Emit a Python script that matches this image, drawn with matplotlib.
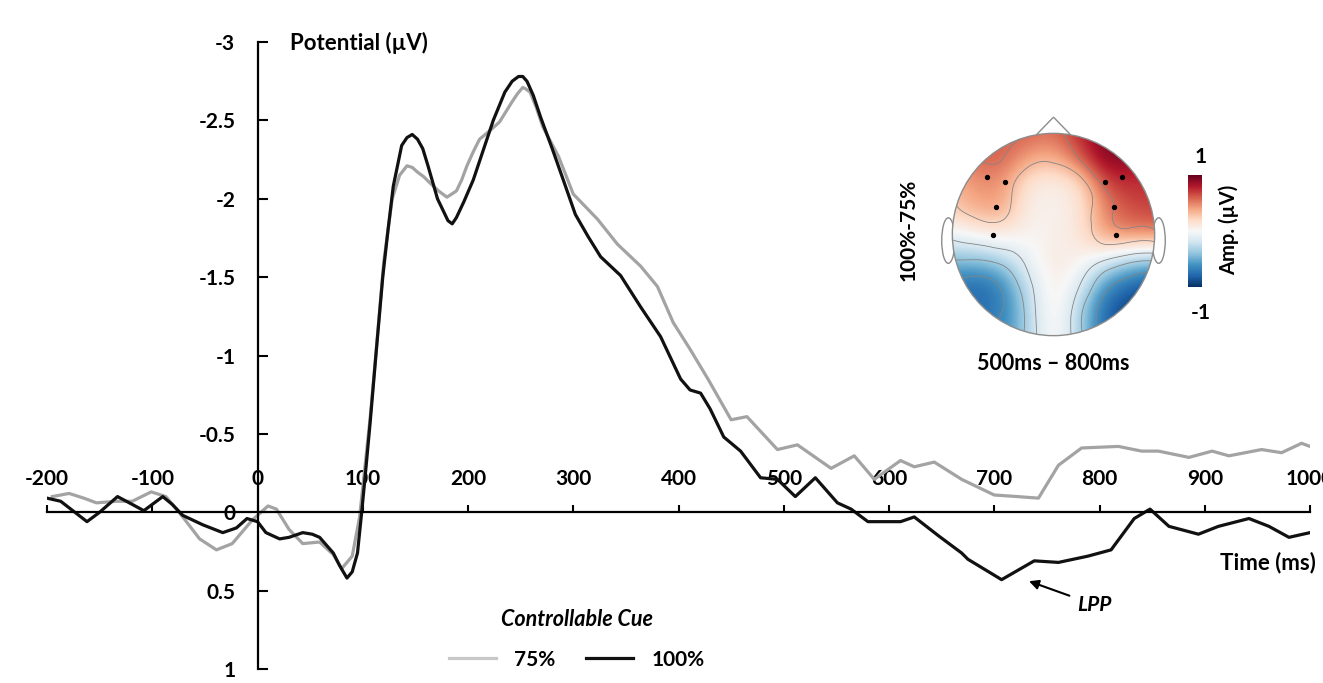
import numpy as np
import matplotlib
matplotlib.use('Agg')
import matplotlib.pyplot as plt
import matplotlib.tri as mtri
from matplotlib.patches import Circle, Ellipse, Polygon

plt.rcParams['font.family'] = ['Lato', 'DejaVu Sans']
plt.rcParams['font.weight'] = 'bold'

# ERP waveforms, controllable cue (time in ms, amplitude in uV)
t_100 = [-200, -187, -162, -150, -133, -119, -108, -90, -81, -71, -52, -33, -20, -10, 0,
         8, 21, 30, 43, 52, 59, 72, 78, 85, 90, 95, 99, 103, 107, 113, 119, 124, 129, 137,
         142, 147, 152, 157, 162, 171, 181, 185, 189, 196, 205, 215, 224, 235, 242, 248,
         252, 256, 262, 269, 280, 290, 302, 314, 326, 345, 364, 383, 402, 411, 421, 430,
         443, 459, 478, 494, 511, 530, 551, 564, 580, 599, 611, 624, 647, 669, 675, 707,
         738, 761, 789, 811, 833, 848, 866, 894, 913, 942, 961, 980, 1000]
v_100 = [-0.09, -0.07, 0.06, 0.0, -0.10, -0.05, -0.01, -0.10, -0.05, 0.02, 0.08, 0.13, 0.10,
         0.04, 0.06, 0.13, 0.17, 0.16, 0.13, 0.14, 0.16, 0.26, 0.34, 0.42, 0.38, 0.26, 0.0,
         -0.28, -0.57, -1.04, -1.50, -1.80, -2.08, -2.34, -2.39, -2.41, -2.38, -2.32, -2.21,
         -2.00, -1.86, -1.84, -1.88, -1.98, -2.12, -2.32, -2.50, -2.68, -2.75, -2.78, -2.78,
         -2.75, -2.66, -2.52, -2.32, -2.13, -1.90, -1.76, -1.63, -1.51, -1.31, -1.12, -0.85,
         -0.78, -0.76, -0.66, -0.48, -0.39, -0.22, -0.21, -0.10, -0.22, -0.06, -0.02, 0.06,
         0.06, 0.06, 0.03, 0.15, 0.26, 0.30, 0.43, 0.31, 0.32, 0.28, 0.24, 0.04, -0.02, 0.09,
         0.14, 0.09, 0.04, 0.09, 0.16, 0.13]

t_75 = [-195, -187, -179, -165, -153, -134, -119, -110, -101, -87, -71, -55, -39, -24, -5,
        10, 18, 30, 43, 59, 72, 80, 90, 97, 107, 113, 120, 128, 135, 142, 147, 152, 158,
        164, 172, 180, 189, 194, 199, 205, 211, 220, 230, 242, 247, 252, 255, 259, 265, 271,
        286, 300, 323, 342, 364, 380, 395, 411, 428, 450, 465, 494, 513, 545, 567, 586, 611,
        624, 643, 669, 700, 722, 742, 761, 783, 818, 840, 856, 885, 907, 923, 954, 973, 992,
        1004]
v_75 = [-0.10, -0.11, -0.12, -0.09, -0.06, -0.07, -0.07, -0.10, -0.13, -0.10, 0.03, 0.17,
        0.24, 0.20, 0.05, -0.04, -0.02, 0.11, 0.20, 0.19, 0.27, 0.36, 0.28, 0.03, -0.60,
        -1.05, -1.60, -2.00, -2.15, -2.21, -2.20, -2.17, -2.14, -2.10, -2.05, -2.01, -2.05,
        -2.12, -2.21, -2.30, -2.38, -2.43, -2.49, -2.62, -2.67, -2.71, -2.70, -2.68, -2.58,
        -2.46, -2.27, -2.03, -1.87, -1.71, -1.57, -1.44, -1.21, -1.04, -0.85, -0.59, -0.61,
        -0.40, -0.43, -0.28, -0.36, -0.21, -0.33, -0.29, -0.32, -0.21, -0.11, -0.10, -0.09,
        -0.30, -0.41, -0.42, -0.39, -0.39, -0.35, -0.39, -0.36, -0.40, -0.38, -0.44, -0.41]

x_ticks = list(range(-200, 1001, 100))
y_ticks = [-3, -2.5, -2, -1.5, -1, -0.5, 0, 0.5, 1]
y_labels = ['-3', '-2.5', '-2', '-1.5', '-1', '-0.5', '0', '0.5', '1']

# topography 100%-75%, 500-800 ms (rows front -> back, cols left -> right)
topo_grid = np.array([
    [0.55, 0.55, 0.60, 0.60, 0.55, 0.75, 0.95, 0.95, 0.90],
    [0.50, 0.60, 0.60, 0.40, 0.35, 0.60, 0.95, 0.90, 0.80],
    [0.35, 0.45, 0.45, 0.10, 0.05, 0.15, 0.65, 0.75, 0.70],
    [0.25, 0.40, 0.40, 0.05, 0.05, 0.10, 0.50, 0.65, 0.70],
    [-0.05, 0.05, 0.10, 0.02, 0.05, 0.10, 0.45, 0.50, 0.50],
    [-0.40, -0.40, -0.30, -0.05, 0.10, 0.05, -0.10, -0.30, -0.35],
    [-0.75, -0.80, -0.65, -0.20, 0.10, -0.10, -0.60, -0.80, -0.90],
    [-0.70, -0.75, -0.70, -0.30, 0.12, -0.30, -0.80, -0.95, -0.95],
    [-0.65, -0.70, -0.65, -0.30, 0.10, -0.30, -0.80, -0.90, -0.90],
])
elec_x = [-0.66, -0.48, -0.57, -0.60, 0.51, 0.68, 0.60, 0.62]
elec_y = [0.57, 0.52, 0.27, 0.00, 0.52, 0.57, 0.27, 0.00]

W, H = 1323, 683
fig = plt.figure(figsize=(W / 100, H / 100), dpi=100)


def fx(x):
    return x / W


def fy(y):
    return 1 - y / H


# main ERP axes
ax = fig.add_axes([fx(47), fy(669), (1310 - 47) / W, (669 - 42) / H])
ax.set_xlim(-200, 1000)
ax.set_ylim(1, -3)
ax.plot(t_75, v_75, color='#a3a3a3', lw=2.3, solid_joinstyle='round', label='75%')
ax.plot(t_100, v_100, color='#111111', lw=2.3, solid_joinstyle='round', label='100%')

for s in ['top', 'right']:
    ax.spines[s].set_visible(False)
ax.spines['left'].set_position(('data', 0))
ax.spines['bottom'].set_position(('data', 0))
ax.spines['left'].set_linewidth(1.6)
ax.spines['bottom'].set_linewidth(1.6)
ax.set_xticks(x_ticks)
ax.set_xticklabels([str(v) for v in x_ticks])
ax.set_yticks(y_ticks)
ax.set_yticklabels(y_labels)
ax.tick_params(axis='x', direction='in', length=5, width=1.5, pad=-31, labelsize=15)
ax.tick_params(axis='y', direction='in', length=7, width=1.5, pad=16, labelsize=15)
for lab in ax.get_xticklabels() + ax.get_yticklabels():
    lab.set_fontweight('bold')

fig.text(fx(290), fy(43), 'Potential (µV)', fontsize=16, fontweight='bold', ha='left', va='center')
fig.text(fx(1316), fy(563), 'Time (ms)', fontsize=16, fontweight='bold', ha='right', va='center')

ax.annotate('LPP', xy=(733, 0.44), xytext=(779, 0.59), fontsize=15, fontweight='bold',
            style='italic', ha='left', va='center',
            arrowprops=dict(arrowstyle='-|>', color='black', lw=1.5, mutation_scale=14,
                            shrinkA=4, shrinkB=0))

leg = ax.legend(loc='upper left', bbox_to_anchor=(fx(430), fy(590)),
                bbox_transform=fig.transFigure, ncol=2, frameon=False,
                title='Controllable Cue', handlelength=2.25, handletextpad=0.87,
                columnspacing=1.5, labelspacing=0.95,
                prop={'weight': 'bold', 'size': 15},
                title_fontproperties={'weight': 'bold', 'style': 'italic', 'size': 15.5})
leg.get_lines()[0].set_color('#c8c8c8')

# topomap inset
tax = fig.add_axes([fx(1053 - 131), fy(235 + 131), 263 / W, 263 / H])
tax.set_xlim(-1.3, 1.3)
tax.set_ylim(-1.3, 1.3)
tax.set_aspect('equal')
tax.axis('off')
im = tax.imshow(topo_grid, cmap='RdBu_r', vmin=-1, vmax=1, origin='upper',
                extent=[-1.125, 1.125, -1.125, 1.125], interpolation='bicubic', zorder=2)
head = Circle((0, 0), 1.0, transform=tax.transData)
im.set_clip_path(head)

# smooth iso-lines through matplotlib's triangulation refiner
gx = np.linspace(-1, 1, 9)
GX, GY = np.meshgrid(gx, gx[::-1])
tri = mtri.Triangulation(GX.ravel(), GY.ravel())
refiner = mtri.UniformTriRefiner(tri)
tri_f, z_f = refiner.refine_field(topo_grid.ravel(),
                                  mtri.CubicTriInterpolator(tri, topo_grid.ravel()),
                                  subdiv=3)
cs = tax.tricontour(tri_f, z_f, levels=[-0.7, -0.4, -0.12, 0.3, 0.6],
                    colors='#858585', linewidths=0.6, linestyles='solid', zorder=3)
cs.set_clip_path(head)

for side in (-1, 1):
    tax.add_patch(Ellipse((side * 1.04, -0.06), 0.13, 0.45, facecolor='white',
                          edgecolor='#8c8c8c', lw=1.0, zorder=1))
tax.add_patch(Polygon([(-0.17, 0.985), (0, 1.16), (0.17, 0.985)], closed=False,
                      fill=False, edgecolor='#8c8c8c', lw=1.0, zorder=1))
tax.add_patch(Circle((0, 0), 1.0, fill=False, edgecolor='#8c8c8c', lw=1.0, zorder=4))
tax.scatter(elec_x, elec_y, s=8, color='black', zorder=5)

cax = fig.add_axes([fx(1188), fy(287), 14 / W, 112 / H])
cb = fig.colorbar(im, cax=cax)
cb.set_ticks([])
cb.outline.set_visible(False)

fig.text(fx(1201), fy(157), '1', fontsize=15, fontweight='bold', ha='center', va='center')
fig.text(fx(1201), fy(313), '-1', fontsize=15, fontweight='bold', ha='center', va='center')
fig.text(fx(1229), fy(230), 'Amp. (µV)', fontsize=14.5, fontweight='bold', rotation=90,
         ha='center', va='center')
fig.text(fx(909), fy(230), '100%-75%', fontsize=15, fontweight='bold', rotation=90,
         ha='center', va='center')
fig.text(fx(1053), fy(363), '500ms – 800ms', fontsize=15.5, fontweight='bold',
         ha='center', va='center')

fig.savefig('out.png', dpi=100)
